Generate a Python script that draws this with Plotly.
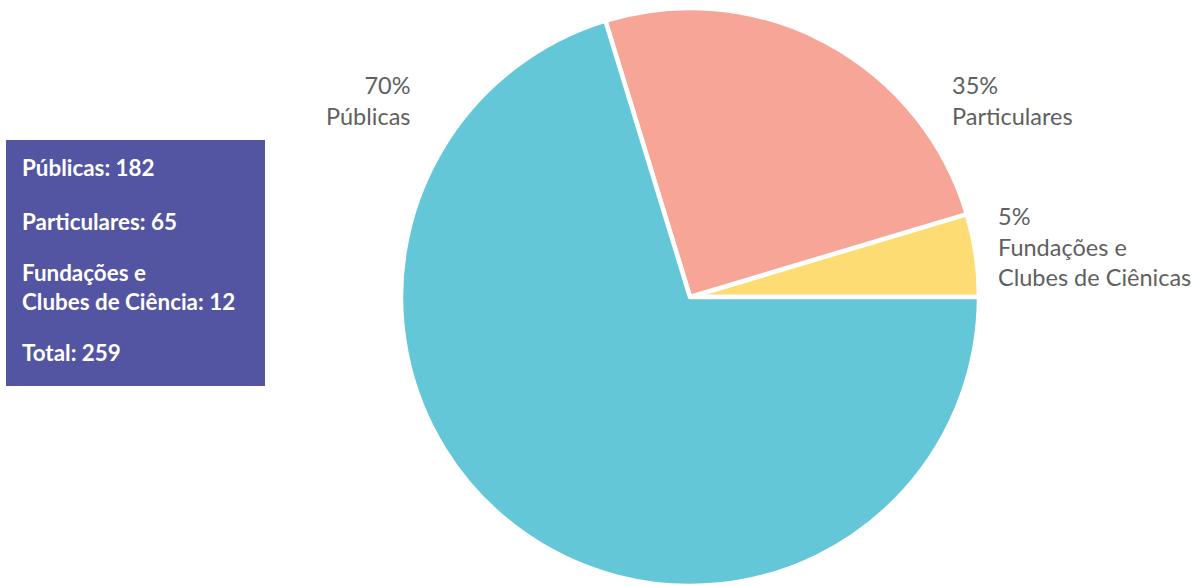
import plotly.graph_objects as go

W, H = 1195, 586
MT, MB = 8, 0

categories = ["Fundações e Clubes de Ciência", "Particulares", "Públicas"]
values = [12, 65, 182]
colors = ["#FEDC74", "#F6A596", "#63C7D7"]

outer_labels = [
    ("70%<br>Públicas", 413, 100, "right"),
    ("35%<br>Particulares", 950, 100, "left"),
    ("5%<br>Fundações e<br>Clubes de Ciênicas", 996, 246, "left"),
]

box_lines = [
    ("Públicas: 182", 167),
    ("Particulares: 65", 221),
    ("Fundações e<br>Clubes de Ciência: 12", 287),
    ("Total: 259", 353),
]


def px(x):
    return x / W


def py(y):
    return (H - MB - y) / (H - MT - MB)


cx, r = 690, 290
fig = go.Figure(go.Pie(
    labels=categories,
    values=values,
    marker=dict(colors=colors, line=dict(color="white", width=4.5)),
    sort=False,
    direction="counterclockwise",
    rotation=90 - 360 * values[0] / sum(values),
    textinfo="none",
    hoverinfo="label+value+percent",
    showlegend=False,
    domain=dict(x=[px(cx - r), px(cx + r)], y=[0, 1]),
))

annotations = []
for text, x, y, align in outer_labels:
    annotations.append(dict(
        text=text, x=px(x), y=py(y), xref="paper", yref="paper",
        xanchor=align, yanchor="middle", align=align, showarrow=False,
        font=dict(family="Lato, Open Sans, sans-serif", size=23.5, color="#5f5f5f"),
    ))
for text, y in box_lines:
    annotations.append(dict(
        text=f"<b>{text}</b>", x=px(20), y=py(y), xref="paper", yref="paper",
        xanchor="left", yanchor="middle", align="left", showarrow=False,
        font=dict(family="Lato, Open Sans, sans-serif", size=22.4, color="white"),
    ))

fig.update_layout(
    width=W, height=H,
    margin=dict(l=0, r=0, t=MT, b=MB),
    paper_bgcolor="white", plot_bgcolor="white",
    shapes=[dict(type="rect", xref="paper", yref="paper",
                 x0=px(6), x1=px(265), y0=py(386), y1=py(140),
                 fillcolor="#5355A2", line=dict(width=0), layer="below")],
    annotations=annotations,
)

fig.write_html("out.html")
